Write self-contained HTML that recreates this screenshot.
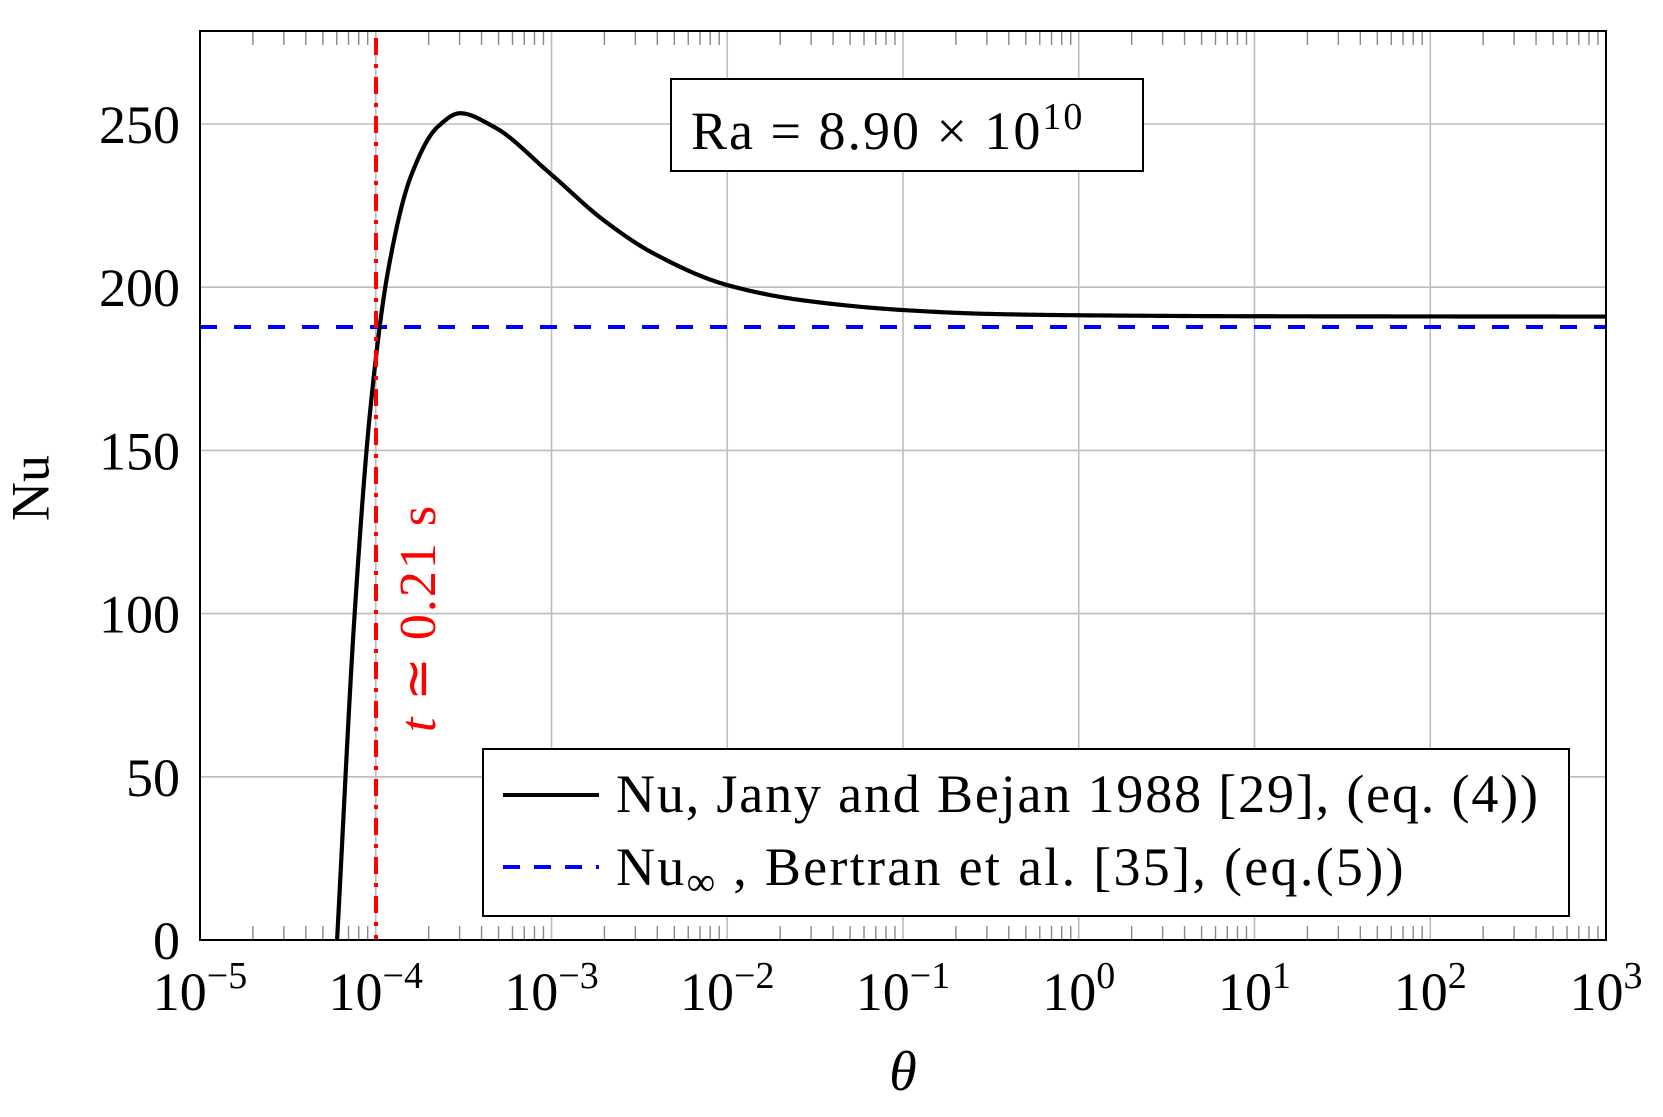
<!DOCTYPE html>
<html><head><meta charset="utf-8"><style>
html,body{margin:0;padding:0;background:#fff;}
svg{display:block;font-family:"Liberation Serif",serif;}
</style></head><body>
<svg id="s" width="1663" height="1117" xmlns="http://www.w3.org/2000/svg">
<g id="grid" stroke="#bdbdbd" stroke-width="1.6"></g>
<g id="ticks" stroke="#888" stroke-width="1.4"></g>
<line x1="200" y1="327" x2="1606" y2="327" stroke="#0000ff" stroke-width="4" stroke-dasharray="17,17"/>
<path id="curve" fill="none" stroke="#000" stroke-width="4.2"/>
<line x1="376" y1="38" x2="376" y2="940" stroke="#ff0000" stroke-width="4" stroke-dasharray="17,9,4,9"/>
<rect x="200" y="31" width="1406" height="909" fill="none" stroke="#000" stroke-width="2"/>
<g id="labels" font-size="52" fill="#000"></g>
<text x="36" y="488" font-size="54" transform="rotate(-90 36 488)" text-anchor="middle" dominant-baseline="middle">Nu</text>
<text x="903" y="1090" font-size="56" font-style="italic" text-anchor="middle">θ</text>
<text x="423" y="618" font-size="52" fill="#ff0000" transform="rotate(-90 423 618)" text-anchor="middle" dominant-baseline="middle" letter-spacing="2"><tspan font-style="italic">t</tspan> ≃ 0.21 s</text>
<rect x="671" y="79" width="472" height="92" fill="#fff" stroke="#000" stroke-width="2"/>
<text x="691" y="149" font-size="54" letter-spacing="2">Ra = 8.90 × 10<tspan dy="-20" font-size="38">10</tspan></text>
<rect x="483" y="749" width="1086" height="167" fill="#fff" stroke="#000" stroke-width="2"/>
<line x1="503" y1="795" x2="599" y2="795" stroke="#000" stroke-width="4"/>
<text x="616" y="812" font-size="54" textLength="922" lengthAdjust="spacing">Nu, Jany and Bejan 1988 [29], (eq. (4))</text>
<line x1="503" y1="867" x2="599" y2="867" stroke="#0000ff" stroke-width="4" stroke-dasharray="17,14"/>
<text x="616" y="885" font-size="54" letter-spacing="2.3">Nu<tspan dy="10" font-size="40">∞</tspan><tspan dy="-10"> , Bertran et al. [35], (eq.(5))</tspan></text>
</svg>
<script>
const L=200,R=1606,T=31,B=940,dec=(R-L)/8,py=(B-124)/250;
const X=l=>L+(l+5)*dec, Y=n=>B-n*py;
const ns="http://www.w3.org/2000/svg";
function el(p,tag,a,txt){const e=document.createElementNS(ns,tag);for(const k in a)e.setAttribute(k,a[k]);if(txt!==undefined)e.innerHTML=txt;document.getElementById(p).appendChild(e);}
for(let d=-5;d<=3;d++){const x=X(d);
 if(d>-5&&d<3) el('grid','line',{x1:x,y1:T,x2:x,y2:B});
 el('labels','text',{x:x,y:1010,'text-anchor':'middle','font-size':54},'10<tspan dy="-22" font-size="38">'+(d<0?'−'+(-d):d)+'</tspan>');
 if(d<3)for(let k=2;k<=9;k++){const xm=x+Math.log10(k)*dec;
  el('ticks','line',{x1:xm,y1:T,x2:xm,y2:T+14});el('ticks','line',{x1:xm,y1:B,x2:xm,y2:B-14});}
}
for(let n=0;n<=250;n+=50){const y=Y(n);
 if(n>0) el('grid','line',{x1:L,y1:y,x2:R,y2:y});
 el('labels','text',{x:180,y:y+19,'text-anchor':'end','font-size':54},n);}
const P=[[-4.22,0],[-4.12,100],[-4.03,163],[-3.93,205],[-3.8,234],[-3.65,249],[-3.52,253.3],[-3.33,249.2],[-3.009,234.9],[-2.705,220.6],[-2.421,210.4],[-2.003,200.7],[-1.586,196.1],[-1,193],[-0.5,191.8],[0,191.4],[1,191.1],[3,191]];
const n=P.length,h=[],del=[],m=[];
for(let i=0;i<n-1;i++){h[i]=P[i+1][0]-P[i][0];del[i]=(P[i+1][1]-P[i][1])/h[i];}
m[0]=del[0];m[n-1]=del[n-2];
for(let i=1;i<n-1;i++){if(del[i-1]*del[i]<=0)m[i]=0;else{const w1=2*h[i]+h[i-1],w2=h[i]+2*h[i-1];m[i]=(w1+w2)/(w1/del[i-1]+w2/del[i]);}}
let d='';
for(let i=0;i<n-1;i++){for(let k=0;k<=40;k++){if(i>0&&k==0)continue;const t=k/40,hh=h[i];
 const h00=2*t*t*t-3*t*t+1,h10=t*t*t-2*t*t+t,h01=-2*t*t*t+3*t*t,h11=t*t*t-t*t;
 const v=h00*P[i][1]+h10*hh*m[i]+h01*P[i+1][1]+h11*hh*m[i+1];const l=P[i][0]+t*hh;
 d+=(d?' L':'M')+X(l).toFixed(2)+','+Y(v).toFixed(2);}}
document.getElementById('curve').setAttribute('d',d);
</script>
</body></html>
